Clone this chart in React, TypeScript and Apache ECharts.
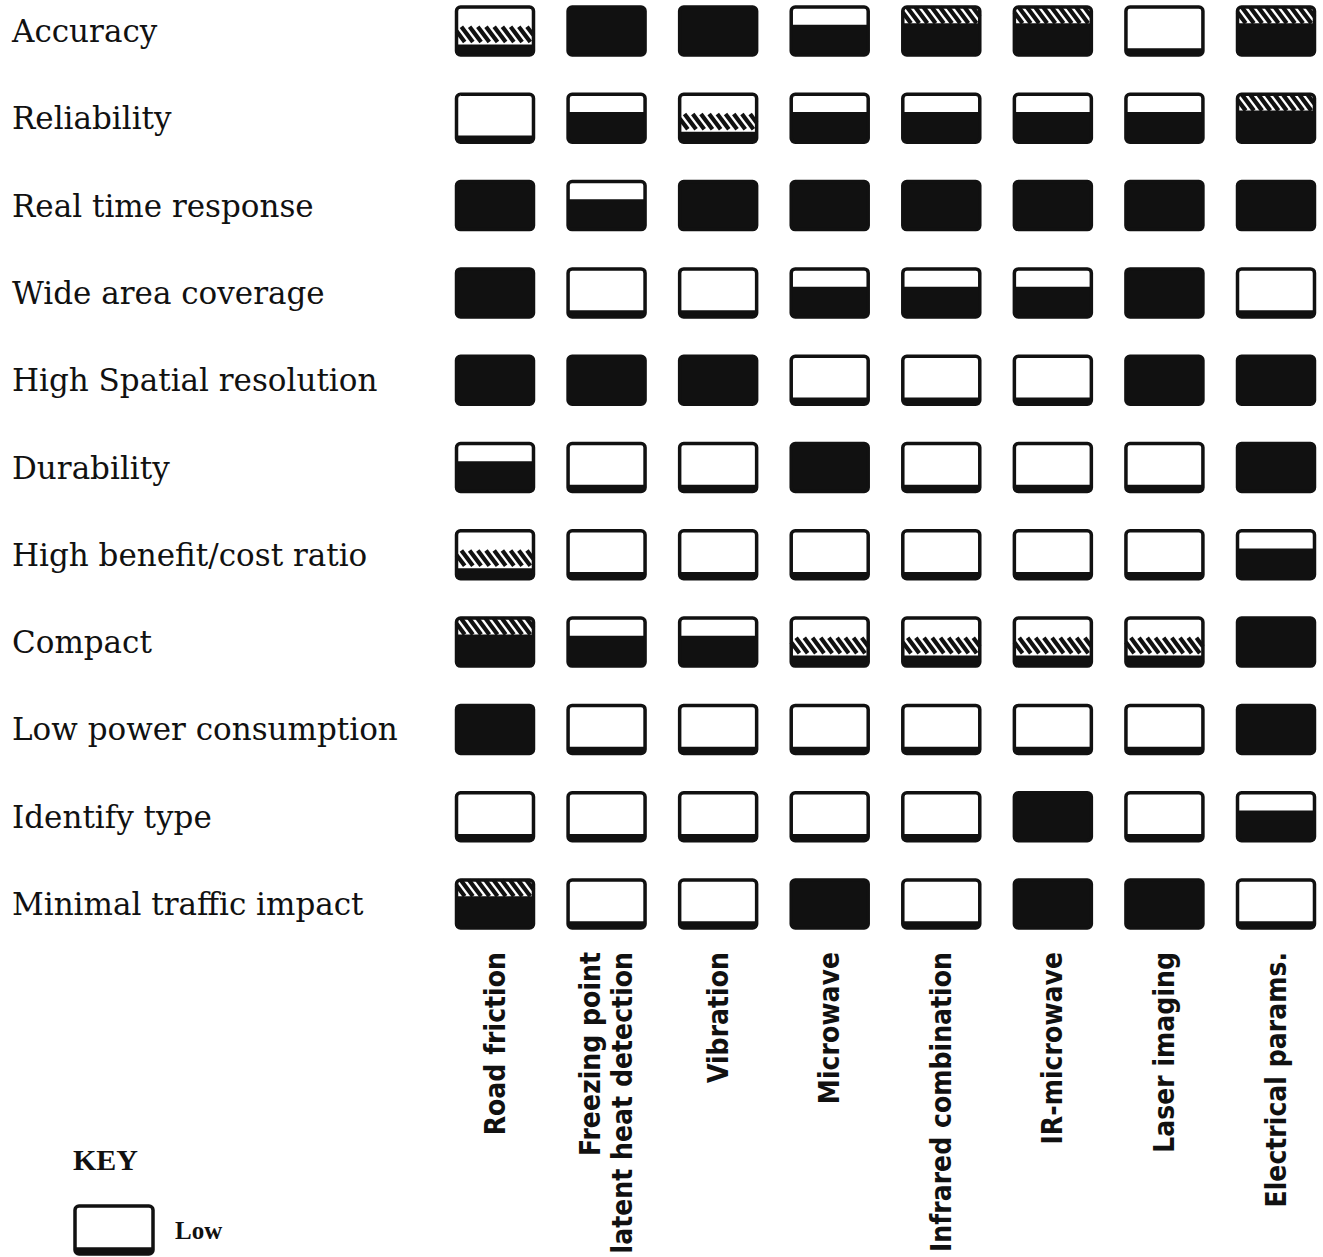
import React, { useEffect, useRef } from "react";
import * as echarts from "echarts";

// Technologies (columns)
const technologies = [
  "Road friction",
  "Freezing point\nlatent heat detection",
  "Vibration",
  "Microwave",
  "Infrared combination",
  "IR-microwave",
  "Laser imaging",
  "Electrical params.",
];

// Criteria (rows)
const criteria = [
  "Accuracy",
  "Reliability",
  "Real time response",
  "Wide area coverage",
  "High Spatial resolution",
  "Durability",
  "High benefit/cost ratio",
  "Compact",
  "Low power consumption",
  "Identify type",
  "Minimal traffic impact",
];

// Rating levels: 1 = Low ... 5 = High
const accuracy = [2, 5, 5, 3, 4, 4, 1, 4];
const reliability = [1, 3, 2, 3, 3, 3, 3, 4];
const realTimeResponse = [5, 3, 5, 5, 5, 5, 5, 5];
const wideAreaCoverage = [5, 1, 1, 3, 3, 3, 5, 1];
const highSpatialResolution = [5, 5, 5, 1, 1, 1, 5, 5];
const durability = [3, 1, 1, 5, 1, 1, 1, 5];
const highBenefitCost = [2, 1, 1, 1, 1, 1, 1, 3];
const compact = [4, 3, 3, 2, 2, 2, 2, 5];
const lowPowerConsumption = [5, 1, 1, 1, 1, 1, 1, 5];
const identifyType = [1, 1, 1, 1, 1, 5, 1, 3];
const minimalTrafficImpact = [4, 1, 1, 5, 1, 5, 5, 1];

const ratings = [
  accuracy,
  reliability,
  realTimeResponse,
  wideAreaCoverage,
  highSpatialResolution,
  durability,
  highBenefitCost,
  compact,
  lowPowerConsumption,
  identifyType,
  minimalTrafficImpact,
];

const keyLabels = ["KEY", "Low"];

const INK = "#111";

// visual style of each level: fraction of box filled black, hatched band above it, gap between
const LEVEL_STYLE: Record<number, { black: number; hatch: number; gap: number }> = {
  1: { black: 0.14, hatch: 0, gap: 0 },
  2: { black: 0.22, hatch: 0.32, gap: 0.05 },
  3: { black: 0.63, hatch: 0, gap: 0 },
  4: { black: 0.66, hatch: 0.34, gap: 0 },
  5: { black: 1, hatch: 0, gap: 0 },
};

function hatchLines(x0: number, x1: number, yTop: number, yBot: number) {
  const hh = yBot - yTop;
  const k = 0.75;
  const run = hh * k;
  const period = 8.2;
  const lines: any[] = [];
  for (let sx = x0 - run; sx < x1; sx += period) {
    const tMin = Math.max(0, (x0 - sx) / run);
    const tMax = Math.min(1, (x1 - sx) / run);
    if (tMax <= tMin) continue;
    lines.push({
      type: "line",
      shape: {
        x1: sx + tMin * run,
        y1: yTop + tMin * hh,
        x2: sx + tMax * run,
        y2: yTop + tMax * hh,
      },
      style: { stroke: INK, lineWidth: 4.2 },
    });
  }
  return lines;
}

function cellShapes(x0: number, y0: number, w: number, h: number, lvl: number) {
  const spec = LEVEL_STYLE[lvl] || LEVEL_STYLE[1];
  const children: any[] = [];
  children.push({
    type: "rect",
    shape: { x: x0, y: y0, width: w, height: h, r: 4 },
    style: { fill: "#fff" },
  });
  if (spec.black > 0) {
    children.push({
      type: "rect",
      shape: { x: x0, y: y0 + h * (1 - spec.black), width: w, height: h * spec.black, r: spec.black >= 1 ? 3 : 0 },
      style: { fill: INK },
    });
  }
  if (spec.hatch > 0) {
    const yBot = y0 + h * (1 - spec.black - spec.gap);
    const yTop = yBot - h * spec.hatch;
    hatchLines(x0, x0 + w, yTop, yBot).forEach((l) => children.push(l));
  }
  children.push({
    type: "rect",
    shape: { x: x0, y: y0, width: w, height: h, r: 4 },
    style: { fill: "none", stroke: INK, lineWidth: 3.5 },
  });
  return children;
}

export default function App() {
  const ref = useRef<HTMLDivElement>(null);
  useEffect(() => {
    document.body.style.margin = "0";
    const chart = echarts.init(ref.current!, null, { renderer: "svg" });
    const data: number[][] = [];
    ratings.forEach((row, r) => row.forEach((v, c) => data.push([c, r, v])));

    const legendChildren: any[] = [
      {
        type: "text",
        left: 73,
        top: 1144,
        style: {
          text: keyLabels[0],
          fill: INK,
          font: "bold 30px 'Liberation Serif', serif",
        },
      },
      ...cellShapes(75, 1206, 78, 48, 1),
      {
        type: "text",
        left: 175,
        top: 1218,
        style: {
          text: keyLabels[1],
          fill: INK,
          font: "bold 25px 'Liberation Serif', serif",
        },
      },
    ];

    chart.setOption({
      animation: false,
      backgroundColor: "#fff",
      grid: { left: 495, right: 47, top: 31, bottom: 353 },
      xAxis: {
        type: "category",
        data: technologies,
        boundaryGap: false,
        axisLine: { show: false },
        axisTick: { show: false },
        splitLine: { show: false },
        axisLabel: {
          interval: 0,
          rotate: 90,
          margin: 48,
          color: INK,
          fontFamily: "'DejaVu Sans Condensed', 'Liberation Sans Narrow', sans-serif",
          fontWeight: "bold",
          fontSize: 28,
          lineHeight: 32,
        },
      },
      yAxis: {
        type: "category",
        data: criteria,
        inverse: true,
        boundaryGap: false,
        axisLine: { show: false },
        axisTick: { show: false },
        splitLine: { show: false },
        axisLabel: {
          interval: 0,
          align: "left",
          margin: 483,
          color: INK,
          fontFamily: "'DejaVu Serif', serif",
          fontSize: 31,
          padding: [0, 0, 6, 0],
        },
      },
      series: [
        {
          type: "custom",
          coordinateSystem: "cartesian2d",
          encode: { x: 0, y: 1 },
          data,
          renderItem: (params: any, api: any) => {
            const c = api.coord([api.value(0), api.value(1)]);
            const sz = api.size([1, 1]);
            const w = sz[0] * 0.69;
            const h = sz[1] * 0.55;
            return {
              type: "group",
              children: cellShapes(c[0] - w / 2, c[1] - h / 2, w, h, api.value(2)),
            };
          },
        },
      ],
      graphic: legendChildren,
    });
    return () => chart.dispose();
  }, []);
  return <div ref={ref} style={{ width: 1323, height: 1257, background: "#fff" }} />;
}
